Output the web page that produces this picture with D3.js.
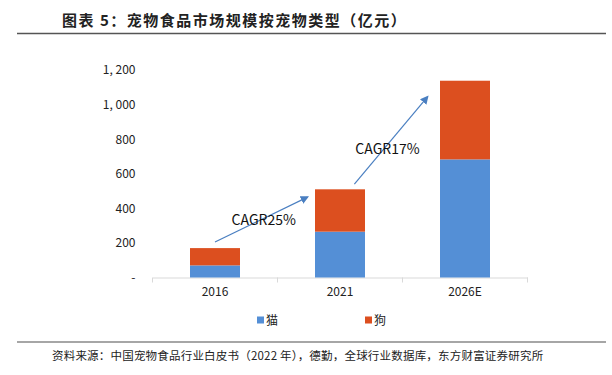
<!DOCTYPE html>
<html>
<head>
<meta charset="utf-8">
<script src="https://cdn.jsdelivr.net/npm/d3@7"></script>
<style>
  body { margin: 0; background: #fff; }
  svg { display: block; }
</style>
</head>
<body>
<svg id="chart" width="612" height="375"></svg>
<script>
// data (亿元)
const years = ['2016', '2021', '2026E'];
const catValues = [70, 265, 683];
const dogValues = [100, 245, 455];
const seriesNames = ['猫', '狗'];
const seriesColors = ['#548fd6', '#dc4f1f'];
const yTicks = [0, 200, 400, 600, 800, 1000, 1200];

// CAGR arrows, x in category index units, y in data units
const arrows = [
  { x1: 0, y1: 205, x2: 0.74, y2: 465 },
  { x1: 1.115, y1: 540, x2: 1.7, y2: 1045 }
];
const cagrLabels = [
  { x: 0.39, y: 303, text: 'CAGR25%' },
  { x: 1.38, y: 714, text: 'CAGR17%' }
];

const svg = d3.select('#chart');
const FONT = '"Noto Sans CJK SC", "Noto Sans", sans-serif';

const MARGIN = { left: 152.5, right: 84.5, top: 70, bottom: 97.5 };
const W = 612, H = 375;

const xScale = d3.scaleBand()
  .domain(years)
  .range([MARGIN.left, W - MARGIN.right])
  .paddingInner(0.6)
  .paddingOuter(0.3);
const yScale = d3.scaleLinear()
  .domain([0, 1200])
  .range([H - MARGIN.bottom, MARGIN.top]);
// category index -> band center, for annotations
const idxScale = d3.scaleLinear()
  .domain([0, 1])
  .range([xScale(years[0]) + xScale.bandwidth() / 2, xScale(years[1]) + xScale.bandwidth() / 2]);

// title + rules
svg.append('text')
  .attr('x', 62).attr('y', 26)
  .attr('font-family', FONT).attr('font-size', 15).attr('font-weight', 'bold')
  .attr('letter-spacing', 1.5)
  .attr('fill', '#222')
  .text('图表 5：宠物食品市场规模按宠物类型（亿元）');
svg.append('line').attr('x1', 17).attr('x2', 606).attr('y1', 33.5).attr('y2', 33.5)
  .attr('stroke', '#555').attr('stroke-width', 1.5);
svg.append('line').attr('x1', 17).attr('x2', 606).attr('y1', 342).attr('y2', 342)
  .attr('stroke', '#888').attr('stroke-width', 1.5);
svg.append('text')
  .attr('x', 52).attr('y', 360)
  .attr('font-family', FONT).attr('font-size', 11.5)
  .attr('letter-spacing', 0.2)
  .attr('fill', '#222')
  .text('资料来源：中国宠物食品行业白皮书（2022 年），德勤，全球行业数据库，东方财富证券研究所');

// y axis labels (no line)
const yAxis = svg.append('g')
  .attr('transform', `translate(${MARGIN.left - 17},0)`)
  .call(d3.axisLeft(yScale).tickValues(yTicks).tickSize(0).tickPadding(0)
    .tickFormat(d => d === 0 ? '-' : d3.format(',')(d).replace(',', ', ')));
yAxis.select('.domain').remove();
yAxis.selectAll('text')
  .attr('font-family', FONT).attr('font-size', 12).attr('fill', '#222');

// x axis
const xAxis = svg.append('g')
  .attr('transform', `translate(0,${yScale(0)})`)
  .call(d3.axisBottom(xScale).tickSize(0).tickPadding(10));
xAxis.select('.domain').attr('stroke', '#d9d9d9');
xAxis.selectAll('text')
  .attr('font-family', FONT).attr('font-size', 12).attr('fill', '#222');
// category separator ticks
const step = xScale.step();
const sepX = d3.range(years.length + 1).map(i => MARGIN.left + i * step);
xAxis.selectAll('.sep').data(sepX).join('line')
  .attr('class', 'sep')
  .attr('x1', d => d).attr('x2', d => d)
  .attr('y1', 0).attr('y2', 5)
  .attr('stroke', '#d9d9d9');

// stacked bars
const tableData = years.map((y, i) => ({ year: y, cat: catValues[i], dog: dogValues[i] }));
const stacked = d3.stack().keys(['cat', 'dog'])(tableData);
svg.append('g').selectAll('g')
  .data(stacked)
  .join('g')
  .attr('fill', (d, i) => seriesColors[i])
  .selectAll('rect')
  .data(d => d)
  .join('rect')
  .attr('x', d => xScale(d.data.year))
  .attr('y', d => yScale(d[1]))
  .attr('width', xScale.bandwidth())
  .attr('height', d => yScale(d[0]) - yScale(d[1]));

// arrows
svg.append('defs').append('marker')
  .attr('id', 'arrowhead')
  .attr('viewBox', '0 0 10 10')
  .attr('refX', 8).attr('refY', 5)
  .attr('markerWidth', 7).attr('markerHeight', 7)
  .attr('orient', 'auto')
  .append('path')
  .attr('d', 'M0,0 L10,5 L0,10 z')
  .attr('fill', '#4a7fc1');
svg.append('g').selectAll('line')
  .data(arrows)
  .join('line')
  .attr('x1', d => idxScale(d.x1)).attr('y1', d => yScale(d.y1))
  .attr('x2', d => idxScale(d.x2)).attr('y2', d => yScale(d.y2))
  .attr('stroke', '#4a7fc1').attr('stroke-width', 1.2)
  .attr('marker-end', 'url(#arrowhead)');
svg.append('g').selectAll('text')
  .data(cagrLabels)
  .join('text')
  .attr('x', d => idxScale(d.x)).attr('y', d => yScale(d.y))
  .attr('text-anchor', 'middle')
  .attr('font-family', FONT).attr('font-size', 14).attr('fill', '#111')
  .text(d => d.text);

// legend
const legend = svg.append('g').attr('transform', 'translate(257,320)');
const legendItems = legend.selectAll('g')
  .data(seriesNames)
  .join('g')
  .attr('transform', (d, i) => `translate(${i * 108},0)`);
legendItems.append('rect')
  .attr('x', 0).attr('y', -3.5).attr('width', 7).attr('height', 7)
  .attr('fill', (d, i) => seriesColors[i]);
legendItems.append('text')
  .attr('x', 9).attr('y', 4.5)
  .attr('font-family', FONT).attr('font-size', 12).attr('fill', '#222')
  .text(d => d);
</script>
</body>
</html>
